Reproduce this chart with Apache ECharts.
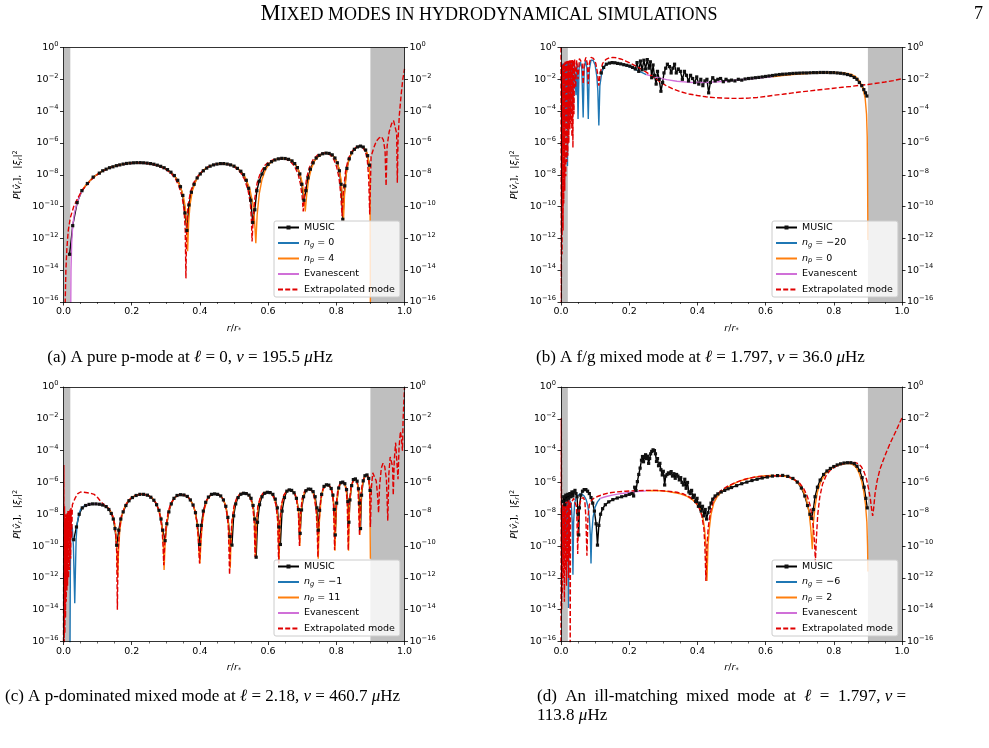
<!DOCTYPE html>
<html>
<head>
<meta charset="utf-8">
<title>Mixed modes in hydrodynamical simulations</title>
<script src="https://cdn.jsdelivr.net/npm/echarts/dist/echarts.min.js"></script>
<style>
html, body { margin: 0; padding: 0; background: #fff; }
#main { width: 989px; height: 748px; }
</style>
</head>
<body>
<div id="main"></div>
<script>
const shadeBands = [[0, 0.02], [0.9, 1.0]];

// (a) l = 0, nu = 195.5 muHz
const aMusic = [[0.018,-13.0],[0.027,-11.2],[0.04,-9.75],[0.054,-9.0],[0.07,-8.55],[0.087,-8.15],[0.105,-7.9],[0.115,-7.75],[0.125,-7.65],[0.135,-7.56],[0.145,-7.5],[0.155,-7.43],[0.165,-7.38],[0.175,-7.33],[0.185,-7.29],[0.195,-7.27],[0.205,-7.25],[0.215,-7.24],[0.225,-7.24],[0.235,-7.25],[0.245,-7.27],[0.255,-7.3],[0.265,-7.34],[0.275,-7.4],[0.285,-7.47],[0.295,-7.56],[0.305,-7.68],[0.315,-7.84],[0.325,-8.05],[0.335,-8.35],[0.343,-8.75],[0.35,-9.3],[0.356,-10.4],[0.362,-11.5],[0.368,-9.9],[0.375,-9.1],[0.383,-8.6],[0.392,-8.2],[0.401,-7.95],[0.41,-7.75],[0.42,-7.58],[0.43,-7.46],[0.44,-7.38],[0.45,-7.33],[0.46,-7.3],[0.47,-7.3],[0.48,-7.33],[0.49,-7.38],[0.5,-7.46],[0.51,-7.6],[0.52,-7.78],[0.528,-8.0],[0.536,-8.35],[0.543,-8.85],[0.549,-9.6],[0.555,-11.0],[0.561,-10.2],[0.567,-9.0],[0.574,-8.4],[0.582,-7.95],[0.59,-7.62],[0.6,-7.35],[0.61,-7.18],[0.62,-7.07],[0.63,-7.0],[0.64,-6.97],[0.65,-6.98],[0.66,-7.03],[0.67,-7.13],[0.678,-7.3],[0.686,-7.55],[0.693,-7.95],[0.699,-8.6],[0.705,-9.6],[0.711,-9.0],[0.717,-8.2],[0.724,-7.65],[0.732,-7.25],[0.741,-6.95],[0.75,-6.78],[0.76,-6.68],[0.77,-6.64],[0.779,-6.66],[0.788,-6.75],[0.796,-6.95],[0.803,-7.25],[0.809,-7.75],[0.814,-8.6],[0.819,-10.8],[0.825,-8.7],[0.831,-7.6],[0.838,-7.0],[0.845,-6.62],[0.853,-6.4],[0.862,-6.25],[0.871,-6.2],[0.879,-6.26],[0.886,-6.45],[0.892,-6.8],[0.897,-7.4]];
const aNg = [];
const aNp = [[0.05,-9.15],[0.06,-8.8],[0.07,-8.55],[0.085,-8.2],[0.1,-7.95],[0.12,-7.7],[0.14,-7.52],[0.16,-7.4],[0.18,-7.31],[0.2,-7.26],[0.22,-7.24],[0.24,-7.26],[0.26,-7.32],[0.28,-7.43],[0.3,-7.62],[0.315,-7.84],[0.33,-8.2],[0.342,-8.7],[0.351,-9.3],[0.357,-10.0],[0.361,-11.0],[0.364,-12.8],[0.367,-11.0],[0.371,-9.9],[0.378,-9.0],[0.388,-8.4],[0.4,-7.95],[0.415,-7.63],[0.43,-7.44],[0.45,-7.32],[0.47,-7.29],[0.49,-7.36],[0.505,-7.5],[0.52,-7.77],[0.535,-8.25],[0.547,-8.95],[0.555,-9.8],[0.56,-10.8],[0.564,-12.3],[0.568,-10.5],[0.574,-9.2],[0.582,-8.3],[0.592,-7.7],[0.605,-7.28],[0.62,-7.06],[0.64,-6.96],[0.655,-6.99],[0.67,-7.12],[0.682,-7.4],[0.692,-7.85],[0.7,-8.5],[0.705,-9.3],[0.709,-10.3],[0.713,-9.3],[0.719,-8.3],[0.727,-7.6],[0.737,-7.1],[0.75,-6.8],[0.765,-6.65],[0.778,-6.65],[0.79,-6.8],[0.8,-7.1],[0.808,-7.6],[0.814,-8.3],[0.818,-9.3],[0.821,-10.9],[0.824,-9.3],[0.829,-8.0],[0.836,-7.1],[0.845,-6.62],[0.856,-6.32],[0.868,-6.2],[0.878,-6.24],[0.886,-6.42],[0.892,-6.75],[0.896,-7.3],[0.899,-8.5],[0.9,-17]];
const aEvan = [[0.021,-17],[0.022,-14],[0.024,-12.3],[0.027,-11.2],[0.032,-10.4],[0.04,-9.75],[0.05,-9.2],[0.058,-8.9]];
const aExtrap = [[0.004,-17],[0.007,-14.0],[0.01,-12.6],[0.014,-11.5],[0.02,-10.7],[0.03,-10.0],[0.04,-9.55],[0.05,-9.15],[0.06,-8.85],[0.07,-8.6],[0.085,-8.25],[0.1,-7.98],[0.12,-7.72],[0.14,-7.54],[0.16,-7.42],[0.18,-7.33],[0.2,-7.28],[0.22,-7.26],[0.24,-7.28],[0.26,-7.34],[0.28,-7.46],[0.3,-7.66],[0.315,-7.9],[0.328,-8.25],[0.339,-8.75],[0.348,-9.4],[0.354,-10.3],[0.357,-11.5],[0.359,-14.5],[0.361,-11.5],[0.365,-10.0],[0.372,-9.1],[0.382,-8.5],[0.395,-8.05],[0.41,-7.7],[0.428,-7.46],[0.448,-7.33],[0.468,-7.3],[0.488,-7.38],[0.503,-7.54],[0.518,-7.82],[0.531,-8.3],[0.541,-8.95],[0.548,-9.8],[0.551,-10.8],[0.553,-12.2],[0.556,-10.8],[0.561,-9.5],[0.568,-8.5],[0.578,-7.85],[0.59,-7.42],[0.605,-7.15],[0.62,-7.02],[0.637,-6.98],[0.652,-7.02],[0.666,-7.18],[0.678,-7.48],[0.688,-7.95],[0.695,-8.6],[0.7,-9.4],[0.703,-10.3],[0.707,-9.2],[0.713,-8.2],[0.721,-7.55],[0.732,-7.05],[0.745,-6.76],[0.76,-6.64],[0.772,-6.64],[0.783,-6.77],[0.793,-7.05],[0.801,-7.5],[0.808,-8.2],[0.813,-9.2],[0.817,-10.6],[0.821,-9.0],[0.827,-7.8],[0.835,-7.0],[0.845,-6.55],[0.857,-6.28],[0.868,-6.2],[0.878,-6.3],[0.886,-6.6],[0.891,-7.1],[0.895,-8.2],[0.898,-10.5],[0.902,-6.85],[0.91,-6.3],[0.917,-5.9],[0.925,-5.7],[0.932,-5.6],[0.938,-5.8],[0.943,-6.5],[0.946,-8.7],[0.949,-6.2],[0.955,-5.3],[0.962,-4.8],[0.968,-4.6],[0.973,-4.7],[0.977,-5.4],[0.979,-8.5],[0.981,-5.8],[0.985,-4.2],[0.99,-3.0],[0.995,-2.0],[1.0,-1.35]];

// (b) l = 1.797, nu = 36.0 muHz
const bMusic = [[0.118,-1.6],[0.125,-1.25],[0.133,-1.05],[0.142,-0.98],[0.15,-0.95],[0.158,-0.96],[0.166,-1.0],[0.175,-1.03],[0.184,-1.08],[0.193,-1.12],[0.202,-1.17],[0.21,-1.25],[0.218,-1.35],[0.223,-0.95],[0.228,-1.5],[0.233,-0.85],[0.238,-1.4],[0.243,-0.8],[0.248,-1.35],[0.253,-0.76],[0.258,-1.3],[0.262,-0.9],[0.266,-1.9],[0.27,-1.1],[0.274,-1.75],[0.279,-2.3],[0.283,-1.5],[0.288,-2.0],[0.293,-2.75],[0.298,-2.2],[0.302,-1.6],[0.307,-1.3],[0.312,-1.05],[0.318,-1.2],[0.323,-1.6],[0.328,-1.3],[0.333,-1.05],[0.338,-1.6],[0.344,-1.35],[0.35,-1.5],[0.356,-2.0],[0.362,-1.5],[0.368,-1.75],[0.374,-2.1],[0.38,-1.75],[0.386,-1.95],[0.392,-2.2],[0.398,-1.85],[0.404,-2.3],[0.41,-2.0],[0.416,-2.4],[0.422,-2.1],[0.428,-2.0],[0.433,-2.85],[0.438,-2.2],[0.445,-1.9],[0.452,-2.1],[0.46,-2.0],[0.468,-1.95],[0.476,-2.15],[0.484,-2.0],[0.492,-2.1],[0.5,-2.05],[0.51,-2.1],[0.52,-2.0],[0.53,-2.05],[0.54,-1.98],[0.55,-1.95],[0.56,-1.93],[0.57,-1.9],[0.58,-1.88],[0.59,-1.85],[0.6,-1.82],[0.61,-1.79],[0.62,-1.76],[0.63,-1.73],[0.64,-1.7],[0.65,-1.68],[0.66,-1.67],[0.67,-1.65],[0.68,-1.63],[0.69,-1.62],[0.7,-1.61],[0.71,-1.6],[0.72,-1.6],[0.73,-1.59],[0.74,-1.58],[0.75,-1.58],[0.76,-1.57],[0.77,-1.57],[0.78,-1.57],[0.79,-1.58],[0.8,-1.58],[0.81,-1.6],[0.82,-1.62],[0.83,-1.65],[0.84,-1.7],[0.85,-1.76],[0.86,-1.88],[0.868,-2.0],[0.875,-2.2],[0.882,-2.4],[0.888,-2.65],[0.893,-2.85],[0.897,-3.05]];
const bNg = [[0.005,-1.0],[0.007,-6],[0.009,-1.0],[0.011,-5],[0.013,-0.95],[0.015,-4.5],[0.017,-0.9],[0.019,-7.45],[0.021,-0.9],[0.023,-5.1],[0.025,-0.88],[0.028,-4.2],[0.031,-0.85],[0.035,-3.8],[0.039,-0.85],[0.044,-3.0],[0.047,-1.0],[0.05,-4.5],[0.053,-1.3],[0.057,-0.9],[0.061,-1.3],[0.065,-4.4],[0.068,-1.3],[0.072,-0.82],[0.076,-1.3],[0.08,-4.5],[0.083,-1.4],[0.088,-0.8],[0.094,-0.8],[0.1,-1.1],[0.105,-1.8],[0.108,-2.7],[0.111,-4.9],[0.114,-2.4],[0.12,-1.5],[0.13,-1.1],[0.14,-0.97],[0.15,-0.94],[0.16,-0.96],[0.175,-1.04],[0.19,-1.13],[0.205,-1.25],[0.22,-1.4],[0.235,-1.55],[0.25,-1.7]];
const bNp = [[0.62,-1.84],[0.65,-1.76],[0.68,-1.7],[0.71,-1.65],[0.74,-1.61],[0.77,-1.58],[0.8,-1.57],[0.83,-1.6],[0.85,-1.68],[0.865,-1.85],[0.877,-2.15],[0.886,-2.6],[0.892,-3.2],[0.896,-4.2],[0.898,-5.6],[0.899,-8],[0.9,-12.1]];
const bEvan = [[0.25,-1.7],[0.28,-1.88],[0.31,-2.02],[0.34,-2.12],[0.37,-2.18],[0.4,-2.2],[0.43,-2.19],[0.46,-2.15],[0.49,-2.1],[0.52,-2.04],[0.55,-1.98],[0.58,-1.92],[0.61,-1.86],[0.62,-1.84]];
const bExtrap = [[0.0,0],[0.001,-16.5],[0.002,-1.2],[0.003,-13.0],[0.004,-1.1],[0.006,-11.5],[0.007,-1.0],[0.008,-9.8],[0.009,-0.95],[0.011,-9.0],[0.012,-0.9],[0.014,-8.1],[0.015,-0.88],[0.017,-7.2],[0.018,-0.85],[0.02,-6.8],[0.021,-0.85],[0.023,-6.0],[0.024,-0.82],[0.026,-5.15],[0.027,-0.8],[0.029,-4.8],[0.03,-0.8],[0.032,-5.6],[0.033,-0.78],[0.035,-6.3],[0.036,-0.78],[0.038,-4.2],[0.04,-0.76],[0.043,-2.5],[0.046,-0.8],[0.05,-2.0],[0.054,-0.7],[0.058,-0.65],[0.062,-1.0],[0.065,-2.3],[0.068,-1.0],[0.073,-0.62],[0.077,-1.0],[0.08,-2.3],[0.083,-1.0],[0.088,-0.62],[0.095,-0.68],[0.102,-1.0],[0.107,-1.6],[0.111,-2.4],[0.115,-1.6],[0.122,-1.0],[0.132,-0.75],[0.142,-0.65],[0.152,-0.62],[0.162,-0.64],[0.175,-0.72],[0.19,-0.85],[0.205,-1.0],[0.22,-1.17],[0.235,-1.35],[0.25,-1.55],[0.27,-1.85],[0.29,-2.15],[0.31,-2.42],[0.33,-2.62],[0.35,-2.78],[0.375,-2.92],[0.4,-3.02],[0.425,-3.1],[0.45,-3.15],[0.475,-3.18],[0.5,-3.2],[0.525,-3.2],[0.55,-3.18],[0.575,-3.14],[0.6,-3.08],[0.625,-3.0],[0.65,-2.94],[0.675,-2.87],[0.7,-2.8],[0.725,-2.74],[0.75,-2.68],[0.775,-2.62],[0.8,-2.56],[0.825,-2.5],[0.85,-2.45],[0.875,-2.38],[0.9,-2.33],[0.925,-2.25],[0.95,-2.17],[0.975,-2.08],[1.0,-1.96]];

// (c) l = 2.18, nu = 460.7 muHz
const cMusic = [[0.03,-9.6],[0.038,-8.8],[0.046,-8.0],[0.055,-7.6],[0.065,-7.45],[0.075,-7.38],[0.085,-7.35],[0.095,-7.35],[0.105,-7.37],[0.115,-7.42],[0.125,-7.52],[0.133,-7.7],[0.14,-7.95],[0.146,-8.3],[0.151,-8.9],[0.156,-9.95],[0.162,-9.0],[0.168,-8.3],[0.175,-7.85],[0.183,-7.45],[0.192,-7.15],[0.202,-6.95],[0.213,-6.82],[0.224,-6.75],[0.235,-6.75],[0.246,-6.8],[0.256,-6.93],[0.265,-7.12],[0.273,-7.4],[0.28,-7.75],[0.286,-8.3],[0.291,-9.0],[0.298,-9.66],[0.303,-8.6],[0.309,-7.85],[0.316,-7.35],[0.324,-7.0],[0.333,-6.82],[0.343,-6.77],[0.353,-6.79],[0.363,-6.88],[0.372,-7.1],[0.38,-7.42],[0.387,-7.9],[0.393,-8.7],[0.399,-9.9],[0.404,-8.7],[0.41,-7.8],[0.417,-7.25],[0.425,-6.92],[0.434,-6.75],[0.443,-6.72],[0.452,-6.75],[0.461,-6.85],[0.469,-7.1],[0.476,-7.5],[0.482,-8.2],[0.488,-9.4],[0.494,-9.94],[0.499,-8.1],[0.505,-7.35],[0.512,-6.95],[0.52,-6.74],[0.528,-6.68],[0.536,-6.7],[0.544,-6.8],[0.55,-7.0],[0.556,-7.45],[0.561,-8.3],[0.565,-10.7],[0.569,-8.5],[0.575,-7.4],[0.582,-6.9],[0.59,-6.68],[0.598,-6.62],[0.606,-6.64],[0.614,-6.75],[0.621,-7.05],[0.627,-7.6],[0.632,-8.8],[0.636,-9.9],[0.641,-7.8],[0.648,-6.95],[0.655,-6.55],[0.662,-6.47],[0.669,-6.5],[0.676,-6.65],[0.683,-7.0],[0.689,-7.7],[0.694,-9.2],[0.698,-7.73],[0.704,-6.9],[0.711,-6.52],[0.718,-6.42],[0.725,-6.43],[0.732,-6.58],[0.738,-6.9],[0.743,-7.6],[0.747,-9.0],[0.751,-7.75],[0.757,-6.75],[0.764,-6.25],[0.771,-6.15],[0.778,-6.17],[0.785,-6.38],[0.79,-6.8],[0.794,-7.7],[0.797,-9.3],[0.801,-7.3],[0.807,-6.35],[0.813,-6.02],[0.819,-5.98],[0.825,-6.08],[0.83,-6.45],[0.834,-7.2],[0.837,-8.5],[0.84,-7.1],[0.845,-6.2],[0.85,-5.82],[0.856,-5.78],[0.861,-5.92],[0.865,-6.4],[0.868,-7.3],[0.871,-8.9],[0.874,-6.8],[0.879,-5.9],[0.884,-5.58],[0.89,-5.53],[0.895,-5.75],[0.899,-6.5]];
const cNg = [[0.019,-16.5],[0.02,-12],[0.021,-9.2],[0.023,-8.6],[0.026,-8.9],[0.029,-10],[0.031,-11.8],[0.033,-13.6],[0.035,-11.5],[0.037,-9.6],[0.04,-8.6],[0.045,-8.0],[0.05,-7.7],[0.056,-7.55],[0.062,-7.45]];
const cNp = [[0.12,-7.45],[0.13,-7.58],[0.138,-7.8],[0.145,-8.15],[0.15,-8.6],[0.154,-9.3],[0.157,-10.5],[0.159,-12.0],[0.161,-10.5],[0.165,-9.0],[0.171,-8.1],[0.18,-7.5],[0.19,-7.15],[0.2,-6.95],[0.212,-6.8],[0.225,-6.74],[0.238,-6.75],[0.25,-6.83],[0.261,-7.0],[0.27,-7.25],[0.278,-7.65],[0.285,-8.2],[0.29,-8.95],[0.293,-10.0],[0.295,-11.5],[0.298,-9.8],[0.302,-8.7],[0.308,-7.85],[0.316,-7.3],[0.325,-6.98],[0.336,-6.8],[0.347,-6.77],[0.358,-6.82],[0.368,-6.98],[0.377,-7.28],[0.385,-7.75],[0.391,-8.45],[0.395,-9.4],[0.398,-10.5],[0.4,-11.1],[0.403,-9.8],[0.407,-8.6],[0.413,-7.7],[0.421,-7.1],[0.43,-6.82],[0.44,-6.72],[0.45,-6.72],[0.46,-6.83],[0.468,-7.05],[0.475,-7.42],[0.48,-7.95],[0.484,-8.7],[0.487,-10.0],[0.489,-11.4],[0.491,-9.8],[0.495,-8.4],[0.501,-7.5],[0.509,-6.98],[0.518,-6.73],[0.527,-6.65],[0.536,-6.68],[0.544,-6.82],[0.551,-7.1],[0.556,-7.55],[0.56,-8.4],[0.563,-10.7],[0.566,-8.6],[0.571,-7.5],[0.578,-6.95],[0.586,-6.67],[0.595,-6.6],[0.604,-6.62],[0.612,-6.75],[0.619,-7.05],[0.625,-7.55],[0.629,-8.4],[0.632,-11.1],[0.635,-8.5],[0.64,-7.4],[0.647,-6.8],[0.655,-6.52],[0.663,-6.47],[0.671,-6.52],[0.679,-6.72],[0.685,-7.15],[0.69,-8.0],[0.693,-10.0],[0.696,-8.0],[0.701,-7.0],[0.708,-6.55],[0.716,-6.42],[0.724,-6.45],[0.731,-6.6],[0.737,-7.0],[0.742,-7.8],[0.745,-9.0],[0.747,-10.8],[0.75,-8.6],[0.755,-7.1],[0.761,-6.45],[0.768,-6.2],[0.776,-6.16],[0.783,-6.3],[0.789,-6.7],[0.793,-7.5],[0.796,-10.3],[0.8,-7.5],[0.805,-6.55],[0.811,-6.1],[0.818,-5.99],[0.824,-6.08],[0.829,-6.45],[0.833,-7.3],[0.836,-10.3],[0.839,-7.3],[0.844,-6.3],[0.85,-5.85],[0.856,-5.78],[0.861,-5.95],[0.865,-6.5],[0.869,-9.3],[0.873,-6.8],[0.878,-5.95],[0.884,-5.58],[0.89,-5.53],[0.895,-5.72],[0.898,-6.3],[0.9,-10.8]];
const cEvan = [[0.06,-7.5],[0.07,-7.4],[0.08,-7.35],[0.09,-7.33],[0.1,-7.34],[0.11,-7.38],[0.12,-7.45]];
const cExtrap = [[0.0,-16.5],[0.001,-4.9],[0.002,-16.5],[0.003,-7.5],[0.004,-15.5],[0.005,-8.0],[0.006,-14.5],[0.007,-8.2],[0.008,-13.5],[0.009,-8.0],[0.01,-12.8],[0.011,-7.9],[0.012,-12.5],[0.013,-7.8],[0.015,-12.0],[0.016,-7.8],[0.018,-11.5],[0.019,-7.7],[0.021,-10.8],[0.022,-7.6],[0.024,-9.5],[0.026,-7.4],[0.03,-7.2],[0.035,-6.95],[0.042,-6.7],[0.05,-6.6],[0.06,-6.62],[0.07,-6.65],[0.08,-6.68],[0.09,-6.75],[0.1,-6.95],[0.11,-7.22],[0.12,-7.42],[0.13,-7.58],[0.138,-7.8],[0.145,-8.15],[0.15,-8.6],[0.153,-9.2],[0.156,-10.4],[0.158,-14.0],[0.16,-10.4],[0.164,-9.0],[0.17,-8.1],[0.18,-7.5],[0.19,-7.15],[0.2,-6.95],[0.212,-6.8],[0.225,-6.74],[0.238,-6.75],[0.25,-6.83],[0.261,-7.0],[0.27,-7.25],[0.278,-7.65],[0.284,-8.2],[0.289,-8.95],[0.292,-10.0],[0.294,-11.2],[0.297,-9.8],[0.301,-8.7],[0.307,-7.85],[0.315,-7.3],[0.325,-6.98],[0.336,-6.8],[0.347,-6.77],[0.358,-6.82],[0.368,-6.98],[0.377,-7.28],[0.385,-7.75],[0.391,-8.45],[0.395,-9.4],[0.397,-10.3],[0.399,-11.1],[0.402,-9.8],[0.406,-8.6],[0.412,-7.7],[0.42,-7.1],[0.43,-6.82],[0.44,-6.72],[0.45,-6.72],[0.46,-6.83],[0.468,-7.05],[0.474,-7.42],[0.479,-7.95],[0.483,-8.7],[0.485,-10.0],[0.487,-11.8],[0.49,-9.8],[0.494,-8.4],[0.5,-7.5],[0.508,-6.98],[0.517,-6.73],[0.527,-6.65],[0.536,-6.68],[0.544,-6.82],[0.55,-7.1],[0.555,-7.55],[0.559,-8.4],[0.562,-10.7],[0.565,-8.6],[0.57,-7.5],[0.577,-6.95],[0.585,-6.67],[0.595,-6.6],[0.604,-6.62],[0.612,-6.75],[0.619,-7.05],[0.624,-7.55],[0.628,-8.4],[0.631,-11.1],[0.634,-8.5],[0.639,-7.4],[0.646,-6.8],[0.655,-6.52],[0.663,-6.47],[0.671,-6.52],[0.679,-6.72],[0.684,-7.15],[0.689,-8.0],[0.692,-10.0],[0.695,-8.0],[0.7,-7.0],[0.707,-6.55],[0.716,-6.42],[0.724,-6.45],[0.731,-6.6],[0.736,-7.0],[0.741,-7.8],[0.744,-9.0],[0.746,-10.7],[0.749,-8.6],[0.754,-7.1],[0.76,-6.45],[0.768,-6.2],[0.776,-6.16],[0.783,-6.3],[0.789,-6.7],[0.792,-7.5],[0.795,-10.25],[0.799,-7.5],[0.804,-6.55],[0.81,-6.1],[0.818,-5.99],[0.824,-6.08],[0.829,-6.45],[0.832,-7.3],[0.835,-10.25],[0.838,-7.3],[0.843,-6.3],[0.85,-5.85],[0.856,-5.78],[0.861,-5.95],[0.864,-6.5],[0.868,-9.3],[0.872,-6.8],[0.877,-5.95],[0.884,-5.58],[0.89,-5.53],[0.895,-5.72],[0.898,-6.5],[0.9,-8.8],[0.903,-6.3],[0.907,-5.4],[0.912,-5.3],[0.917,-5.9],[0.921,-6.8],[0.924,-7.9],[0.927,-6.2],[0.932,-5.1],[0.937,-4.8],[0.942,-5.0],[0.947,-5.8],[0.951,-8.4],[0.954,-5.5],[0.958,-4.4],[0.962,-4.3],[0.965,-5.0],[0.967,-6.8],[0.97,-4.6],[0.974,-3.5],[0.978,-3.6],[0.981,-5.8],[0.984,-3.8],[0.988,-2.8],[0.991,-3.2],[0.994,-4.0],[0.996,-2.0],[0.998,-1.0],[1.0,-0.05]];

// (d) l = 1.797, nu = 113.8 muHz
const dMusic = [[0.005,-7.2],[0.008,-6.9],[0.011,-7.4],[0.014,-6.8],[0.017,-7.1],[0.02,-6.75],[0.023,-7.0],[0.026,-6.7],[0.029,-6.9],[0.032,-6.6],[0.035,-6.85],[0.038,-6.6],[0.041,-6.5],[0.044,-6.7],[0.047,-6.9],[0.05,-8.0],[0.052,-9.3],[0.054,-7.6],[0.058,-6.8],[0.063,-6.55],[0.068,-6.45],[0.073,-6.45],[0.078,-6.55],[0.083,-6.7],[0.088,-6.95],[0.093,-7.3],[0.098,-7.8],[0.103,-8.6],[0.107,-9.94],[0.111,-8.7],[0.116,-8.0],[0.122,-7.65],[0.13,-7.4],[0.14,-7.22],[0.152,-7.08],[0.165,-6.98],[0.178,-6.9],[0.19,-6.83],[0.2,-6.75],[0.208,-6.7],[0.213,-6.85],[0.216,-6.3],[0.22,-6.5],[0.224,-5.95],[0.228,-5.5],[0.232,-5.1],[0.236,-4.6],[0.239,-4.37],[0.242,-4.7],[0.245,-4.4],[0.248,-4.26],[0.251,-4.5],[0.254,-4.35],[0.257,-4.8],[0.26,-4.5],[0.263,-4.2],[0.266,-4.05],[0.27,-3.95],[0.274,-4.0],[0.277,-4.2],[0.28,-4.68],[0.283,-4.5],[0.286,-4.95],[0.29,-4.8],[0.293,-5.2],[0.297,-5.53],[0.3,-5.3],[0.304,-6.16],[0.307,-5.6],[0.311,-5.5],[0.315,-5.4],[0.319,-5.45],[0.323,-5.32],[0.327,-5.6],[0.331,-5.45],[0.335,-5.74],[0.339,-5.5],[0.343,-5.6],[0.347,-5.84],[0.351,-5.7],[0.355,-6.0],[0.359,-6.16],[0.363,-5.8],[0.367,-6.37],[0.371,-6.0],[0.375,-6.6],[0.379,-6.7],[0.383,-6.5],[0.387,-6.95],[0.391,-6.8],[0.395,-7.2],[0.399,-7.0],[0.403,-7.5],[0.407,-7.3],[0.411,-7.8],[0.415,-7.5],[0.419,-8.1],[0.423,-7.7],[0.427,-8.3],[0.431,-7.9],[0.435,-7.6],[0.44,-7.3],[0.445,-7.05],[0.452,-6.85],[0.46,-6.72],[0.47,-6.6],[0.48,-6.5],[0.49,-6.4],[0.5,-6.32],[0.515,-6.2],[0.53,-6.08],[0.545,-5.98],[0.56,-5.88],[0.575,-5.8],[0.59,-5.72],[0.605,-5.66],[0.62,-5.6],[0.635,-5.57],[0.65,-5.56],[0.665,-5.62],[0.68,-5.75],[0.693,-5.98],[0.705,-6.35],[0.715,-6.85],[0.723,-7.45],[0.73,-8.0],[0.735,-8.26],[0.74,-7.7],[0.745,-6.9],[0.752,-6.3],[0.76,-5.85],[0.77,-5.5],[0.78,-5.28],[0.79,-5.12],[0.8,-5.0],[0.81,-4.9],[0.82,-4.83],[0.83,-4.78],[0.84,-4.76],[0.85,-4.76],[0.86,-4.82],[0.868,-4.98],[0.876,-5.25],[0.883,-5.7],[0.889,-6.3],[0.894,-7.0],[0.898,-7.6]];
const dNg = [[0.004,-7.5],[0.006,-11],[0.008,-7.4],[0.01,-10.5],[0.012,-7.3],[0.014,-9.8],[0.016,-7.2],[0.018,-9.5],[0.02,-7.1],[0.022,-13.9],[0.024,-7.1],[0.027,-7.0],[0.03,-7.3],[0.033,-8.5],[0.035,-11.8],[0.037,-8.5],[0.04,-7.3],[0.045,-6.9],[0.05,-6.8],[0.056,-6.72],[0.062,-6.75],[0.068,-6.85],[0.074,-7.1],[0.079,-7.5],[0.083,-8.2],[0.086,-9.3],[0.088,-11.1],[0.09,-9.3],[0.094,-8.2],[0.1,-7.55],[0.107,-7.22],[0.115,-7.0]];
const dNp = [[0.25,-6.53],[0.27,-6.51],[0.29,-6.52],[0.31,-6.56],[0.33,-6.63],[0.35,-6.72],[0.37,-6.88],[0.385,-7.08],[0.398,-7.35],[0.408,-7.7],[0.416,-8.2],[0.421,-8.9],[0.425,-10.0],[0.428,-12.2],[0.431,-10.0],[0.435,-8.9],[0.44,-8.0],[0.448,-7.3],[0.458,-6.9],[0.47,-6.6],[0.485,-6.35],[0.5,-6.15],[0.52,-5.95],[0.54,-5.8],[0.56,-5.7],[0.58,-5.62],[0.6,-5.58],[0.62,-5.56],[0.64,-5.57],[0.66,-5.63],[0.675,-5.73],[0.69,-5.92],[0.702,-6.2],[0.712,-6.6],[0.72,-7.1],[0.727,-7.8],[0.732,-8.8],[0.735,-9.6],[0.737,-10.2],[0.74,-8.6],[0.745,-7.5],[0.752,-6.6],[0.762,-5.95],[0.775,-5.45],[0.79,-5.15],[0.805,-4.97],[0.82,-4.87],[0.835,-4.82],[0.848,-4.82],[0.858,-4.9],[0.867,-5.1],[0.875,-5.45],[0.882,-5.95],[0.888,-6.6],[0.893,-7.4],[0.897,-8.5],[0.899,-10],[0.9,-11.6]];
const dEvan = [[0.115,-7.0],[0.13,-6.9],[0.15,-6.8],[0.17,-6.72],[0.19,-6.66],[0.21,-6.6],[0.23,-6.56],[0.25,-6.53]];
const dExtrap = [[0.0,-16.5],[0.001,-1.95],[0.002,-14],[0.003,-7.6],[0.004,-13],[0.005,-7.4],[0.007,-12],[0.008,-7.3],[0.01,-13.5],[0.011,-7.3],[0.013,-11.5],[0.014,-7.2],[0.016,-12.5],[0.017,-7.2],[0.019,-11],[0.02,-7.1],[0.022,-12],[0.023,-7.1],[0.025,-10.5],[0.026,-7.2],[0.027,-16.5],[0.028,-7.4],[0.032,-7.2],[0.037,-7.0],[0.042,-7.0],[0.045,-7.5],[0.047,-8.5],[0.049,-10.5],[0.051,-8.5],[0.054,-7.4],[0.06,-7.0],[0.066,-6.95],[0.07,-7.2],[0.073,-8.2],[0.076,-10.6],[0.079,-8.2],[0.083,-7.4],[0.09,-7.1],[0.096,-7.0],[0.105,-6.9],[0.12,-6.78],[0.14,-6.66],[0.16,-6.6],[0.19,-6.55],[0.22,-6.52],[0.25,-6.5],[0.28,-6.5],[0.31,-6.54],[0.34,-6.62],[0.36,-6.73],[0.38,-6.95],[0.395,-7.25],[0.405,-7.6],[0.413,-8.1],[0.419,-8.9],[0.422,-10.0],[0.425,-12.2],[0.428,-10.0],[0.432,-8.8],[0.438,-7.9],[0.446,-7.2],[0.456,-6.8],[0.47,-6.5],[0.49,-6.22],[0.51,-6.02],[0.53,-5.86],[0.55,-5.74],[0.575,-5.64],[0.6,-5.6],[0.625,-5.58],[0.65,-5.6],[0.67,-5.68],[0.685,-5.82],[0.7,-6.05],[0.712,-6.4],[0.722,-6.85],[0.73,-7.4],[0.736,-8.1],[0.741,-9.0],[0.744,-10.0],[0.746,-11.0],[0.749,-9.5],[0.753,-8.0],[0.759,-6.9],[0.767,-6.1],[0.778,-5.55],[0.79,-5.22],[0.805,-5.0],[0.82,-4.86],[0.835,-4.78],[0.85,-4.74],[0.862,-4.74],[0.872,-4.82],[0.881,-5.02],[0.889,-5.35],[0.896,-5.8],[0.902,-6.4],[0.907,-7.0],[0.911,-7.7],[0.914,-8.1],[0.917,-7.6],[0.921,-6.7],[0.927,-5.9],[0.935,-5.2],[0.945,-4.6],[0.955,-4.05],[0.965,-3.55],[0.975,-3.1],[0.985,-2.65],[0.993,-2.25],[1.0,-1.95]];

const panelData = {
  a: { music: aMusic, ng: aNg, np: aNp, evan: aEvan, extrap: aExtrap },
  b: { music: bMusic, ng: bNg, np: bNp, evan: bEvan, extrap: bExtrap },
  c: { music: cMusic, ng: cNg, np: cNp, evan: cEvan, extrap: cExtrap },
  d: { music: dMusic, ng: dNg, np: dNp, evan: dEvan, extrap: dExtrap }
};
const ngLabels = { a: '0', b: '\u221220', c: '\u22121', d: '\u22126' };
const npLabels = { a: '4', b: '0', c: '11', d: '2' };

const captions = {
  a: '(a) A pure p-mode at {i|\u2113} = 0, {i|\u03bd} = 195.5 {i|\u03bc}Hz',
  b: '(b) A f/g mixed mode at {i|\u2113} = 1.797, {i|\u03bd} = 36.0 {i|\u03bc}Hz',
  c: '(c) A p-dominated mixed mode at {i|\u2113} = 2.18, {i|\u03bd} = 460.7 {i|\u03bc}Hz',
  d: '(d)  An  ill-matching  mixed  mode  at  {i|\u2113}  =  1.797, {i|\u03bd} = \n113.8 {i|\u03bc}Hz'
};

// layout
const panels = ['a', 'b', 'c', 'd'];
const gridPos = { a: [63.5, 47.5], b: [561, 47.5], c: [63.5, 387], d: [561, 387] };
const legendPos = { a: [274, 221], b: [772, 221], c: [274, 560], d: [772, 560] };
const captionPos = { a: [190, 358, 'center'], b: [536, 358, 'left'], c: [5, 697, 'left'], d: [537, 706, 'left'] };
const gridW = 341, gridH = 254.5;

const colors = { music: '#000000', ng: '#1f77b4', np: '#ff7f0e', evan: '#d070d8', extrap: '#e00000' };
const FONT = 'DejaVu Sans';
const SERIF = 'Liberation Serif';
const CAP = 17;

function supExp(v) {
  const e = Math.round(v);
  return '{b|10}{s|' + (e === 0 ? '0' : '\u2212' + (-e)) + '}';
}
const tickRich = {
  b: { fontFamily: FONT, fontSize: 9.5, lineHeight: 14, color: '#000' },
  s: { fontFamily: FONT, fontSize: 6.7, lineHeight: 7, verticalAlign: 'top', color: '#000' }
};
const axisLineStyle = { color: '#000', width: 0.8 };

let grids = [], xAxes = [], yAxes = [], series = [], legends = [], graphics = [];
const legendText = {};

panels.forEach(function (p, g) {
  const pos = gridPos[p];
  grids.push({ left: pos[0], top: pos[1], width: gridW, height: gridH, show: false });

  xAxes.push({
    gridIndex: g, type: 'value', min: 0, max: 1, interval: 0.2, position: 'bottom', z: 10,
    axisLine: { show: true, onZero: false, lineStyle: axisLineStyle },
    axisTick: { show: true, length: 3.5, lineStyle: axisLineStyle },
    minorTick: { show: true, splitNumber: 4, length: 2, lineStyle: { color: '#000', width: 0.6 } },
    splitLine: { show: false }, minorSplitLine: { show: false },
    axisLabel: { fontFamily: FONT, fontSize: 9.5, color: '#000', margin: 5,
      formatter: function (v) { return v.toFixed(1); } },
    name: '{i|r}/{i|r}{s|*}', nameLocation: 'middle', nameGap: 21,
    nameTextStyle: { fontFamily: FONT, fontSize: 9.5, color: '#000',
      rich: { i: { fontStyle: 'italic', fontSize: 9.5, lineHeight: 11 },
              s: { fontSize: 6.5, lineHeight: 6, verticalAlign: 'bottom' } } }
  });
  xAxes.push({
    gridIndex: g, type: 'value', min: 0, max: 1, position: 'top', z: 10,
    axisLine: { show: true, onZero: false, lineStyle: axisLineStyle },
    axisTick: { show: false }, axisLabel: { show: false }, splitLine: { show: false }
  });
  const yBase = {
    gridIndex: g, type: 'value', min: -16, max: 0, interval: 2, z: 10,
    axisLine: { show: true, onZero: false, lineStyle: axisLineStyle },
    axisTick: { show: true, length: 3.5, lineStyle: axisLineStyle },
    splitLine: { show: false },
    axisLabel: { margin: 5, formatter: supExp, rich: tickRich }
  };
  yAxes.push(Object.assign({}, yBase, {
    position: 'left',
    name: '{i|P}[{i|v\u0302}{s|r}],  |{i|\u03be}{s|r}|{p|2}', nameLocation: 'middle', nameGap: 40,
    nameTextStyle: { fontFamily: FONT, fontSize: 9.5, color: '#000',
      rich: { i: { fontStyle: 'italic', fontSize: 9.5, lineHeight: 12 },
              s: { fontStyle: 'italic', fontSize: 6.5, lineHeight: 7, verticalAlign: 'bottom' },
              p: { fontSize: 6.5, lineHeight: 7, verticalAlign: 'top' } } }
  }));
  yAxes.push(Object.assign({}, yBase, { position: 'right' }));

  // shaded regions
  series.push({
    type: 'custom', xAxisIndex: 2 * g, yAxisIndex: 2 * g, z: 1, silent: true,
    data: shadeBands, encode: { x: [0, 1] },
    renderItem: function (params, api) {
      const p0 = api.coord([api.value(0), 0]);
      const p1 = api.coord([api.value(1), -16]);
      return { type: 'rect', shape: { x: p0[0], y: p0[1], width: p1[0] - p0[0], height: p1[1] - p0[1] },
               style: { fill: '#bfbfbf' } };
    }
  });

  const d = panelData[p];
  const keys = ['music', 'ng', 'np', 'evan', 'extrap'];
  const legendItems = [];
  keys.forEach(function (k) {
    const name = p + '-' + k;
    legendItems.push({ name: name, itemStyle: { opacity: k === 'music' ? 1 : 0 } });
    const s = {
      type: 'line', name: name, data: d[k], xAxisIndex: 2 * g, yAxisIndex: 2 * g,
      z: 2, silent: true, clip: true, animation: false,
      symbol: 'none', showSymbol: false,
      lineStyle: { color: colors[k], width: 1.4 },
      itemStyle: { color: colors[k] }
    };
    if (k === 'music') {
      s.symbol = 'rect'; s.symbolSize = 3.2; s.showSymbol = true; s.showAllSymbol = true;
      s.itemStyle = { color: '#111', borderWidth: 0 };
    }
    if (k === 'extrap') s.lineStyle.type = [5, 2.2];
    series.push(s);
  });
  legendText[p + '-music'] = 'MUSIC';
  legendText[p + '-ng'] = '{i|n}{s|g} = ' + ngLabels[p];
  legendText[p + '-np'] = '{i|n}{s|p} = ' + npLabels[p];
  legendText[p + '-evan'] = 'Evanescent';
  legendText[p + '-extrap'] = 'Extrapolated mode';

  legends.push({
    data: legendItems, orient: 'vertical', left: legendPos[p][0], top: legendPos[p][1],
    itemWidth: 21, itemHeight: 5, itemGap: 4.5, padding: [1, 5, 2, 3],
    backgroundColor: 'rgba(255,255,255,0.8)', borderColor: '#cccccc', borderWidth: 1, borderRadius: 2,
    selectedMode: false,
    textStyle: { fontFamily: FONT, fontSize: 9.5, color: '#000', lineHeight: 11,
      rich: { i: { fontStyle: 'italic', fontSize: 9.5, lineHeight: 11 },
              s: { fontStyle: 'italic', fontSize: 6.7, lineHeight: 7, verticalAlign: 'bottom' } } },
    formatter: function (n) { return legendText[n]; }
  });

  graphics.push({
    type: 'text', x: captionPos[p][0], y: captionPos[p][1],
    style: { text: captions[p], fill: '#000', font: CAP + 'px "' + SERIF + '"', verticalAlign: 'middle',
      align: captionPos[p][2], lineHeight: 19,
      rich: { i: { fontStyle: 'italic', fontSize: CAP, fontFamily: SERIF, lineHeight: 19 } } }
  });
});

graphics.push({
  type: 'text', x: 489, y: 14,
  style: { text: '{a|M}{b|IXED MODES IN HYDRODYNAMICAL SIMULATIONS}', align: 'center', verticalAlign: 'middle',
    fill: '#000',
    rich: { a: { fontFamily: SERIF, fontSize: 22.5, lineHeight: 21 }, b: { fontFamily: SERIF, fontSize: 18, lineHeight: 19, verticalAlign: 'bottom' } } }
});
graphics.push({
  type: 'text', x: 983, y: 14,
  style: { text: '7', align: 'right', verticalAlign: 'middle', fill: '#000', font: '18px "' + SERIF + '"' }
});

const chart = echarts.init(document.getElementById('main'), null, { renderer: 'canvas' });
chart.setOption({
  animation: false,
  backgroundColor: '#ffffff',
  textStyle: { fontFamily: FONT },
  grid: grids, xAxis: xAxes, yAxis: yAxes,
  legend: legends,
  series: series,
  graphic: graphics
});
</script>
</body>
</html>
